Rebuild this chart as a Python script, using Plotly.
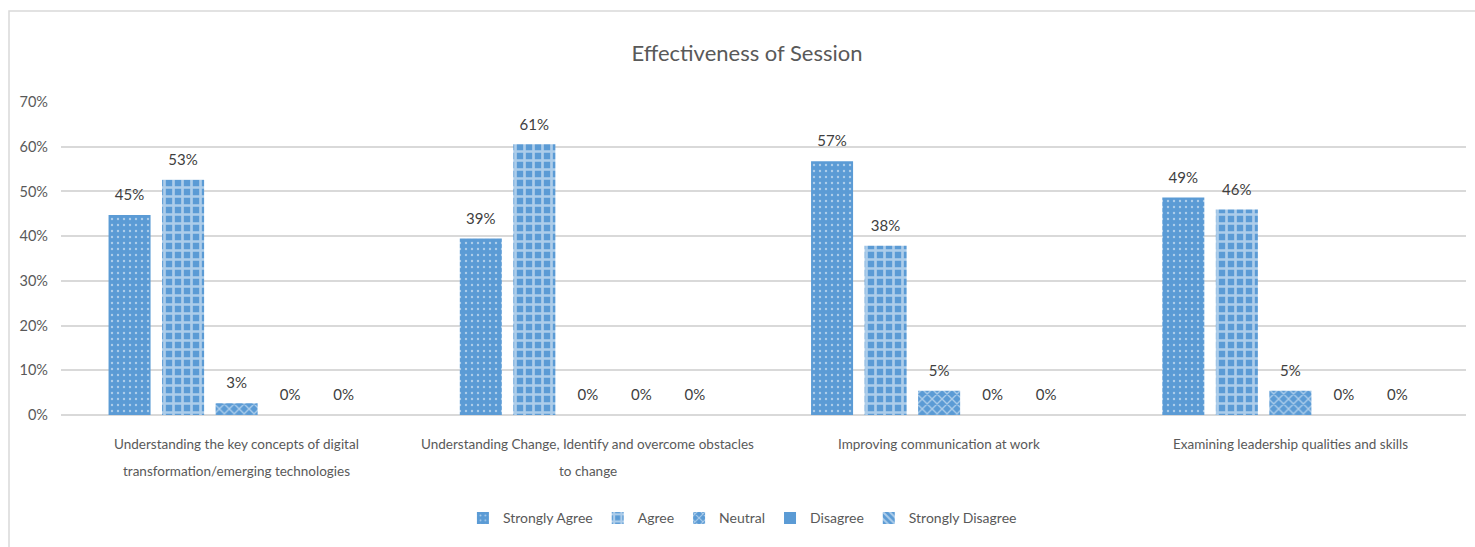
import plotly.graph_objects as go

categories = [
    "Understanding the key concepts of digital<br>transformation/emerging technologies",
    "Understanding Change, Identify and overcome obstacles<br>to change",
    "Improving communication at work",
    "Examining leadership qualities and skills",
]
series_names = ["Strongly Agree", "Agree", "Neutral", "Disagree", "Strongly Disagree"]
# percentages per series (across categories)
strongly_agree = [44.74, 39.47, 56.76, 48.65]
agree = [52.63, 60.53, 37.84, 45.95]
neutral = [2.63, 0.0, 5.41, 5.41]
disagree = [0.0, 0.0, 0.0, 0.0]
strongly_disagree = [0.0, 0.0, 0.0, 0.0]
y_ticks = [0, 10, 20, 30, 40, 50, 60, 70]

BLUE = "#5B9BD5"
FONT = "Lato, sans-serif"
patterns = [
    dict(shape=".", fgcolor="white", bgcolor=BLUE, size=6, solidity=0.12, fillmode="overlay"),
    dict(shape="+", fgcolor="white", bgcolor=BLUE, size=9, solidity=0.5, fillmode="overlay"),
    dict(shape="x", fgcolor="white", bgcolor=BLUE, size=7, solidity=0.35, fillmode="overlay"),
    dict(shape="", fgcolor="white", bgcolor=BLUE),
    dict(shape="\\", fgcolor="white", bgcolor=BLUE, size=6, solidity=0.4, fillmode="overlay"),
]
values = [strongly_agree, agree, neutral, disagree, strongly_disagree]

x_idx = list(range(len(categories)))
fig = go.Figure()
for name, vals, pat in zip(series_names, values, patterns):
    fig.add_trace(go.Bar(
        name=name, x=x_idx, y=vals, offsetgroup=name,
        marker=dict(color=BLUE, pattern=pat, line=dict(width=0)),
        hoverinfo="skip",
    ))
# data labels, lifted above the bars like Excel's
for name, vals in zip(series_names, values):
    fig.add_trace(go.Scatter(
        name=name + " labels", x=x_idx, y=vals, offsetgroup=name,
        mode="markers+text", text=[f"{v:.0f}%" for v in vals], textposition="top center",
        marker=dict(size=16, color="rgba(0,0,0,0)"), showlegend=False, cliponaxis=False,
        textfont=dict(family=FONT, size=15, color="#404040"), hoverinfo="skip",
    ))

# category labels (line by line, Excel-like spacing)
for i, cat in enumerate(categories):
    for j, line in enumerate(cat.split("<br>")):
        fig.add_annotation(x=i, y=0, xref="x", yref="y", text=line, showarrow=False,
                           yanchor="top", yshift=-19 - 27 * j,
                           font=dict(family=FONT, size=13.5, color="#595959"))

# outer chart border
fig.add_shape(type="rect", xref="paper", yref="paper",
              x0=(9 - 61) / 1405, x1=(1480 - 61) / 1405,
              y0=-0.6, y1=1 + (102 - 11) / 313,
              line=dict(color="#D9D9D9", width=1.5), layer="below")

fig.update_layout(
    width=1475, height=547,
    margin=dict(l=61, r=9, t=102, b=132),
    paper_bgcolor="white", plot_bgcolor="white",
    barmode="group", bargap=0.238, bargroupgap=0.215,
    scattermode="group", scattergap=0.238,
    title=dict(text="Effectiveness of Session", x=(747) / 1475, xanchor="center",
               y=1 - 53 / 547, yanchor="middle",
               font=dict(family=FONT, size=22, color="#595959")),
    font=dict(family=FONT, color="#595959"),
    showlegend=True,
    legend=dict(orientation="h", x=0.485, xanchor="center", y=-0.33, yanchor="middle",
                font=dict(family=FONT, size=14, color="#595959"),
                itemwidth=30, traceorder="normal"),
    xaxis=dict(tickvals=x_idx, ticktext=[""] * len(categories), showgrid=False,
               showline=False, zeroline=False, range=[-0.5, len(categories) - 0.5]),
    yaxis=dict(range=[0, 70], tickvals=y_ticks, ticktext=[f"{t}%" for t in y_ticks],
               showgrid=True, gridcolor="#D9D9D9", gridwidth=1.5,
               zeroline=True, zerolinecolor="#D9D9D9", zerolinewidth=1.5,
               tickfont=dict(family=FONT, size=14.5, color="#595959"),
               ticklabelstandoff=12),
)

fig.write_html("out.html")
